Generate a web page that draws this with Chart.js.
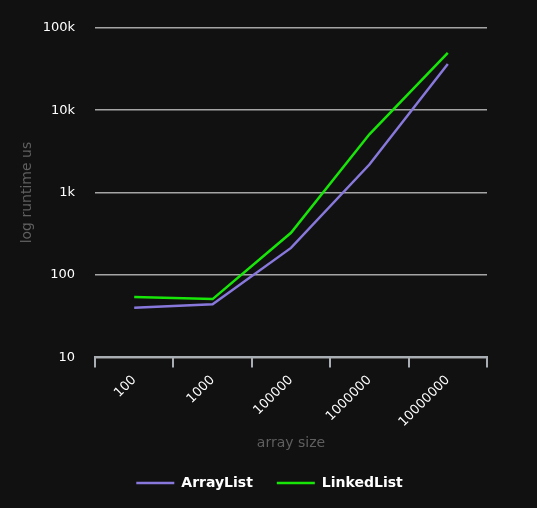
<!DOCTYPE html>
<html>
<head>
<meta charset="utf-8">
<script src="https://cdn.jsdelivr.net/npm/chart.js@4"></script>
<style>
  html, body { margin: 0; padding: 0; background: #111111; }
  #wrap { width: 537px; height: 508px; }
</style>
</head>
<body>
<div id="wrap"><canvas id="myChart"></canvas></div>
<script>
const sizes = ["100", "1000", "100000", "1000000", "10000000"];
const arrayList = [40, 44, 213, 2190, 36300];
const linkedList = [54, 51, 325, 5100, 49500];
const yTicks = [10, 100, 1000, 10000, 100000];
const yTickLabels = ["10", "100", "1k", "10k", "100k"];

const font = "'DejaVu Sans', sans-serif";

// legend in the original sits a bit right of the canvas centre
const legendShift = {
  id: "legendShift",
  afterLayout: (chart) => {
    chart.legend.left += 26;
    chart.legend.right += 26;
  },
};

const ctx = document.getElementById("myChart").getContext("2d");

const config = {
  type: "line",
  data: {
    labels: sizes,
    datasets: [
      {
        label: "ArrayList",
        data: arrayList,
        borderColor: "rgb(136, 120, 220)",
        backgroundColor: "rgb(136, 120, 220)",
        borderWidth: 2.5,
        pointRadius: 0,
        tension: 0,
      },
      {
        label: "LinkedList",
        data: linkedList,
        borderColor: "rgb(24, 230, 8)",
        backgroundColor: "rgb(24, 230, 8)",
        borderWidth: 2.5,
        pointRadius: 0,
        tension: 0,
      },
    ],
  },
  plugins: [legendShift],
  options: {
    responsive: true,
    maintainAspectRatio: false,
    animation: false,
    layout: {
      padding: { top: 20, right: 50, left: 0, bottom: 8 },
    },
    plugins: {
      legend: {
        position: "bottom",
        labels: {
          usePointStyle: true,
          pointStyle: "line",
          pointStyleWidth: 38,
          boxWidth: 38,
          color: "#ffffff",
          padding: 24,
          font: { family: font, size: 14, weight: "bold" },
        },
      },
      tooltip: { enabled: false },
    },
    scales: {
      x: {
        offset: true,
        grid: {
          display: true,
          drawOnChartArea: false,
          drawTicks: true,
          tickLength: 10,
          color: "#a9aeb5",
          lineWidth: 2,
          offset: true,
        },
        border: { display: true, color: "#a9aeb5", width: 2 },
        ticks: {
          color: "#ffffff",
          minRotation: 45,
          maxRotation: 45,
          padding: 5,
          font: { family: font, size: 13 },
        },
        title: {
          display: true,
          text: "array size",
          color: "#5f5f5f",
          padding: { top: 0, bottom: 0 },
          font: { family: font, size: 14 },
        },
      },
      y: {
        type: "logarithmic",
        min: 10,
        max: 100000,
        afterBuildTicks: (scale) => {
          scale.ticks = yTicks.map((v) => ({ value: v }));
        },
        afterFit: (scale) => {
          scale.width = 95;
        },
        grid: {
          color: "#a5a5a5",
          lineWidth: 1.5,
          drawTicks: false,
        },
        border: { display: false },
        ticks: {
          color: "#ffffff",
          padding: 20,
          font: { family: font, size: 13 },
          callback: (value) => {
            const i = yTicks.indexOf(value);
            return i >= 0 ? yTickLabels[i] : "";
          },
        },
        title: {
          display: true,
          text: "log runtime us",
          color: "#5f5f5f",
          padding: { top: 19, bottom: 8 },
          font: { family: font, size: 14 },
        },
      },
    },
  },
};

const myChart = new Chart(ctx, config);
</script>
</body>
</html>
